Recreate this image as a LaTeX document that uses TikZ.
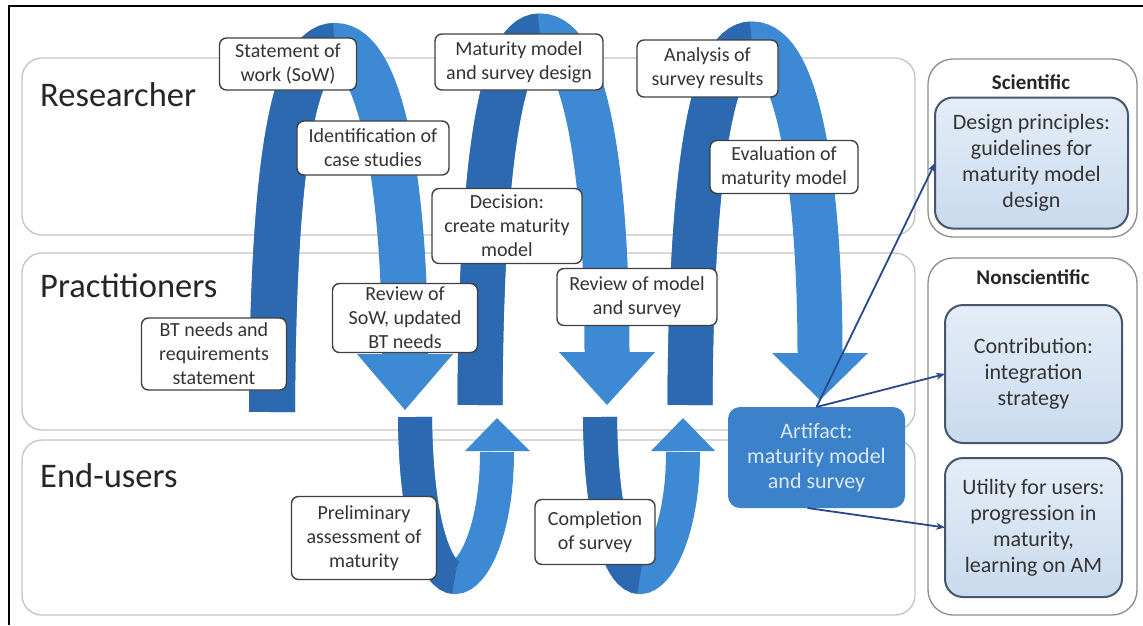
\documentclass[tikz,border=0pt]{standalone}
\usepackage{fontspec}
\setmainfont{Carlito}
\usetikzlibrary{arrows.meta}
\definecolor{dk}{HTML}{2C69B0}
\definecolor{lt}{HTML}{3D89D3}
\definecolor{lblborder}{HTML}{404040}
\definecolor{lbltext}{HTML}{333333}
\definecolor{laneborder}{HTML}{C4C4C4}
\definecolor{innerborder}{HTML}{46566C}
\definecolor{innertop}{HTML}{E4EDF7}
\definecolor{innerbot}{HTML}{C9DAEE}
\definecolor{artfill}{HTML}{3C82CB}
\definecolor{arttext}{HTML}{DCE8F6}
\definecolor{thinarrow}{HTML}{27498C}
\tikzset{
  lane/.style={draw=laneborder, line width=1.3pt, rounded corners=20pt, fill=white, outer sep=0pt},
  lanetitle/.style={font=\fontsize{34.5}{38}\selectfont, text=black!85, inner sep=0pt},
  lbl/.style={draw=lblborder, fill=white, rounded corners=7pt, line width=1.4pt, align=center,
    font=\fontsize{20}{24}\selectfont, text=lbltext, inner sep=1pt, outer sep=0pt},
  outerbox/.style={draw=black!45, line width=1.3pt, rounded corners=25pt, fill=white, outer sep=0pt},
  innerbox/.style={draw=innerborder, line width=2pt, rounded corners=18pt, top color=innertop,
    bottom color=innerbot, align=center, font=\fontsize{22}{26}\selectfont, text=lbltext, outer sep=0pt},
  paneltitle/.style={font=\bfseries\fontsize{21}{24}\selectfont, text=black!85, inner sep=0pt},
  artifactbox/.style={fill=artfill, rounded corners=12pt, align=center, font=\fontsize{22}{25}\selectfont,
    text=arttext, outer sep=0pt},
  bandup/.style={line width=#1, dk},
  banddown/.style={line width=#1, lt},
  thinarr/.style={draw=thinarrow, line width=1.8pt, -{Stealth[length=9pt,width=7pt]}}
}
\begin{document}
\begin{tikzpicture}[x=1pt,y=-1pt]
\useasboundingbox (0,0) rectangle (1143,625);
% lanes
\node[lane, minimum width=893pt, minimum height=177pt] (laneR) at (468.5,146.5) {};
\node[lane, minimum width=893pt, minimum height=177pt] (laneP) at (468.5,341.5) {};
\node[lane, minimum width=893pt, minimum height=175pt] (laneE) at (468.5,527.5) {};
\node[lanetitle, anchor=base west] (tR) at (40,106) {Researcher};
\node[lanetitle, anchor=base west] (tP) at (40,297) {Practitioners};
\node[lanetitle, anchor=base west] (tE) at (40,487) {End-users};
% frame
\draw[line width=2pt] (9,625) -- (9,6) -- (1143,6);
% arch A
\draw[banddown=46pt] (272,412) .. controls (273,170) and (292,46) .. (335,46)
  .. controls (380,46) and (405,180) .. (405,356);
\draw[bandup=46pt] (272,412) .. controls (273,170) and (292,46) .. (335,46);
\fill[lt] (357,354) -- (453,354) -- (405,410) -- cycle;
% U1
\draw[banddown=34pt] (415,417) .. controls (416,530) and (438,577) .. (455,577)
  .. controls (473,577) and (497,530) .. (497,452);
\draw[bandup=34pt] (415,417) .. controls (416,530) and (438,577) .. (455,577);
\fill[lt] (465,451) -- (530,451) -- (497,418) -- cycle;
% arch B
\draw[banddown=45pt] (480,405) .. controls (481,170) and (500,36) .. (540,36)
  .. controls (585,36) and (607,170) .. (607,354);
\draw[bandup=45pt] (480,405) .. controls (481,170) and (500,36) .. (540,36);
\fill[lt] (559,352) -- (655,352) -- (607,405) -- cycle;
% U2
\draw[banddown=34pt] (600,417) .. controls (601,530) and (623,577) .. (640,577)
  .. controls (658,577) and (683,530) .. (683,452);
\draw[bandup=34pt] (600,417) .. controls (601,530) and (623,577) .. (640,577);
\fill[lt] (651,451) -- (715,451) -- (683,418) -- cycle;
% arch C
\draw[banddown=45pt] (690,405) .. controls (691,170) and (712,44) .. (752,44)
  .. controls (797,44) and (820,180) .. (820,355);
\draw[bandup=45pt] (690,405) .. controls (691,170) and (712,44) .. (752,44);
\fill[lt] (772,353) -- (868,353) -- (820,400) -- cycle;
% labels
\node[lbl, minimum width=137pt, minimum height=52pt] (sow) at (288,64) {Statement of\\work (SoW)};
\node[lbl, minimum width=152pt, minimum height=54pt] (ident) at (373,148) {Identification of\\case studies};
\node[lbl, minimum width=168pt, minimum height=56pt] (matdes) at (519,62) {Maturity model\\and survey design};
\node[lbl, minimum width=141pt, minimum height=57pt] (analysis) at (707.5,68.5) {Analysis of\\survey results};
\node[lbl, minimum width=148pt, minimum height=53pt] (evaluation) at (784,167) {Evaluation of\\maturity model};
\node[lbl, minimum width=150pt, minimum height=75pt] (decision) at (507,226) {Decision:\\create maturity\\model};
\node[lbl, minimum width=145pt, minimum height=69pt] (reviewsow) at (405,318) {Review of\\SoW, updated\\BT needs};
\node[lbl, minimum width=145pt, minimum height=72pt] (btneeds) at (214,354) {BT needs and\\requirements\\statement};
\node[lbl, minimum width=160pt, minimum height=57pt] (reviewmod) at (637,297) {Review of model\\and survey};
\node[lbl, minimum width=145pt, minimum height=83pt] (prelim) at (364,538) {Preliminary\\assessment of\\maturity};
\node[lbl, minimum width=120pt, minimum height=65pt] (completion) at (595,532) {Completion\\of survey};
% artifact
\node[artifactbox, minimum width=177pt, minimum height=101pt] (artifact) at (816.5,457.5) {Artifact:\\maturity model\\and survey};
% right panels
\node[outerbox, minimum width=209pt, minimum height=178pt] (sci) at (1032.5,148) {};
\node[outerbox, minimum width=209pt, minimum height=357pt] (nonsci) at (1032.5,436.5) {};
\node[paneltitle, anchor=base] (sciT) at (1031,89) {Scientific};
\node[paneltitle, anchor=base] (nonsciT) at (1033,284) {Nonscientific};
\node[innerbox, minimum width=193pt, minimum height=131pt] (design) at (1031.5,163) {Design principles:\\guidelines for\\maturity model\\design};
\node[innerbox, minimum width=177pt, minimum height=138pt] (contrib) at (1033.5,374) {Contribution:\\integration\\strategy};
\node[innerbox, minimum width=177pt, minimum height=139pt] (utility) at (1033.5,527.5) {Utility for users:\\progression in\\maturity,\\learning on AM};
% thin arrows
\draw[thinarr] (artifact.north) -- (design.west);
\draw[thinarr] (artifact.north) -- (contrib.west);
\draw[thinarr] ([xshift=-9pt]artifact.south) -- (utility.west);
\end{tikzpicture}
\end{document}
